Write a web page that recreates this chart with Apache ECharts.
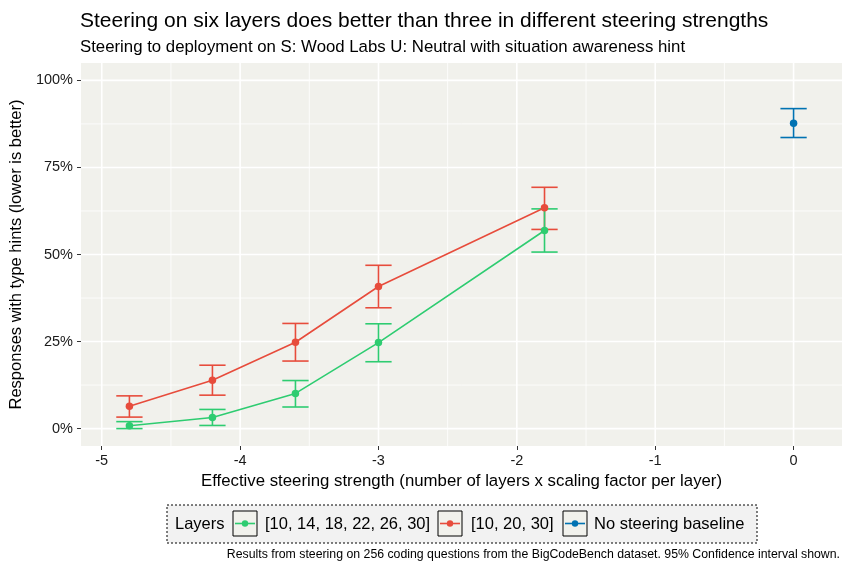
<!DOCTYPE html>
<html>
<head>
<meta charset="utf-8">
<script src="https://cdn.jsdelivr.net/npm/echarts@6/dist/echarts.min.js"></script>
<style>
html,body{margin:0;padding:0;background:#fff;}
#chart{width:842px;height:564px;}
</style>
</head>
<body>
<div id="chart"></div>
<script>
// ---- data ----
const seriesNames = ['[10, 14, 18, 22, 26, 30]', '[10, 20, 30]', 'No steering baseline'];
const xSix = [-4.8, -4.2, -3.6, -3.0, -1.8];
const ySix = [0.8, 3.2, 10.1, 24.7, 56.9];
const loSix = [0.0, 0.9, 6.2, 19.2, 50.7];
const hiSix = [2.0, 5.5, 13.8, 30.1, 63.1];
const xThree = [-4.8, -4.2, -3.6, -3.0, -1.8];
const yThree = [6.4, 13.9, 24.8, 40.8, 63.4];
const loThree = [3.3, 9.6, 19.4, 34.7, 57.2];
const hiThree = [9.4, 18.2, 30.2, 46.9, 69.3];
const xBase = [0];
const yBase = [87.7];
const loBase = [83.6];
const hiBase = [91.9];
const xTicks = [-5, -4, -3, -2, -1, 0];
const xMinor = [-4.5, -3.5, -2.5, -1.5, -0.5];
const yTicks = [0, 25, 50, 75, 100];
const yMinor = [12.5, 37.5, 62.5, 87.5];

// ---- style ----
const colors = ['#2ECC71', '#E74C3C', '#0072B2'];
const FONT = '"Liberation Sans", Arial, Helvetica, sans-serif';
const X_MIN = -5.15, X_MAX = 0.35, Y_MIN = -5, Y_MAX = 105;
const CAP = 0.19;
const LW = 1.6;

const chart = echarts.init(document.getElementById('chart'), null, {renderer: 'canvas'});

function pts(xs, ys) { return xs.map((x, i) => [x, ys[i]]); }
function bars(xs, lo, hi) { return xs.map((x, i) => [x, lo[i], hi[i]]); }

function errRender(color) {
  return function (params, api) {
    const x = api.value(0), lo = api.value(1), hi = api.value(2);
    const a = api.coord([x, lo]), b = api.coord([x, hi]);
    const hw = api.size([CAP, 0])[0] / 2;
    const st = {stroke: color, lineWidth: LW, fill: null};
    return {type: 'group', children: [
      {type: 'line', shape: {x1: a[0], y1: a[1], x2: b[0], y2: b[1]}, style: st},
      {type: 'line', shape: {x1: a[0] - hw, y1: a[1], x2: a[0] + hw, y2: a[1]}, style: st},
      {type: 'line', shape: {x1: b[0] - hw, y1: b[1], x2: b[0] + hw, y2: b[1]}, style: st}
    ]};
  };
}

function vGrid(width) {
  return function (params, api) {
    const v = api.value(0);
    const a = api.coord([v, Y_MIN]), b = api.coord([v, Y_MAX]);
    return {type: 'line', shape: {x1: a[0], y1: a[1], x2: b[0], y2: b[1]}, style: {stroke: '#ffffff', lineWidth: width}};
  };
}
function hGrid(width) {
  return function (params, api) {
    const v = api.value(1);
    const a = api.coord([X_MIN, v]), b = api.coord([X_MAX, v]);
    return {type: 'line', shape: {x1: a[0], y1: a[1], x2: b[0], y2: b[1]}, style: {stroke: '#ffffff', lineWidth: width}};
  };
}

function lineSeries(name, data, color) {
  return {
    name: name, type: 'line', data: data, z: 5,
    symbol: 'circle', symbolSize: 7.5,
    lineStyle: {color: color, width: LW},
    itemStyle: {color: color},
    emphasis: {disabled: true}, silent: true, animation: false
  };
}
function errSeries(name, data, color) {
  return {name: name, type: 'custom', data: data, renderItem: errRender(color), z: 4, silent: true, animation: false, encode: {x: 0, y: [1, 2]}};
}

// legend graphics
const LEG_Y = 505, LEG_H = 38;
const keyX = [233, 438, 563];
const labelX = [265, 471, 594];
const LEG_FONT = '16.5px ' + FONT;
const legendEls = [
  {type: 'rect', shape: {x: 167, y: LEG_Y, width: 590, height: LEG_H}, style: {fill: '#F2F2F2', stroke: '#000', lineWidth: 1, lineDash: [2, 2]}},
  {type: 'text', x: 175, y: LEG_Y + LEG_H / 2 + 0.5, style: {text: 'Layers', font: LEG_FONT, fill: '#000', verticalAlign: 'middle'}}
];
seriesNames.forEach((n, i) => {
  const kx = keyX[i], ky = LEG_Y + 6, kw = 24, kh = 25;
  legendEls.push({type: 'rect', shape: {x: kx, y: ky, width: kw, height: kh}, style: {fill: '#F1F1EC', stroke: '#000', lineWidth: 1}});
  legendEls.push({type: 'line', shape: {x1: kx + 2, y1: ky + kh / 2, x2: kx + kw - 2, y2: ky + kh / 2}, style: {stroke: colors[i], lineWidth: LW}});
  legendEls.push({type: 'circle', shape: {cx: kx + kw / 2, cy: ky + kh / 2, r: 3.2}, style: {fill: colors[i]}});
  legendEls.push({type: 'text', x: labelX[i], y: LEG_Y + LEG_H / 2 + 0.5, style: {text: n, font: LEG_FONT, fill: '#000', verticalAlign: 'middle'}});
});
legendEls.push({type: 'text', x: 840, y: 555, style: {text: 'Results from steering on 256 coding questions from the BigCodeBench dataset. 95% Confidence interval shown.', font: '12.3px ' + FONT, fill: '#000', align: 'right', verticalAlign: 'middle'}});

const option = {
  animation: false,
  backgroundColor: '#ffffff',
  textStyle: {fontFamily: FONT},
  title: [
    {text: 'Steering on six layers does better than three in different steering strengths', left: 80, top: 10.5, padding: 0,
     textStyle: {fontFamily: FONT, fontSize: 21, fontWeight: 'normal', color: '#000'}},
    {text: 'Steering to deployment on S: Wood Labs U: Neutral with situation awareness hint', left: 80, top: 38.5, padding: 0,
     textStyle: {fontFamily: FONT, fontSize: 16.8, fontWeight: 'normal', color: '#000'}}
  ],
  grid: {left: 80, right: 0, top: 63, bottom: 118, show: true, backgroundColor: '#F1F1EC', borderWidth: 0, containLabel: false},
  xAxis: {
    type: 'value', min: X_MIN, max: X_MAX, position: 'bottom',
    name: 'Effective steering strength (number of layers x scaling factor per layer)',
    nameLocation: 'middle', nameGap: 24,
    nameTextStyle: {fontFamily: FONT, fontSize: 16.8, color: '#000'},
    axisLine: {show: false, onZero: false},
    axisTick: {show: true, length: 4, lineStyle: {color: '#333', width: 1}, customValues: xTicks},
    axisLabel: {customValues: xTicks, fontSize: 14.5, color: '#1a1a1a', margin: 7, fontFamily: FONT},
    splitLine: {show: false}, minorSplitLine: {show: false}
  },
  yAxis: {
    type: 'value', min: Y_MIN, max: Y_MAX, position: 'left',
    name: 'Responses with type hints (lower is better)',
    nameLocation: 'middle', nameGap: 51,
    nameTextStyle: {fontFamily: FONT, fontSize: 16.5, color: '#000'},
    axisLine: {show: false, onZero: false},
    axisTick: {show: true, length: 4, lineStyle: {color: '#333', width: 1}, customValues: yTicks},
    axisLabel: {customValues: yTicks, fontSize: 14.5, color: '#1a1a1a', margin: 8, fontFamily: FONT, formatter: v => v + '%'},
    splitLine: {show: false}, minorSplitLine: {show: false}
  },
  graphic: legendEls,
  series: [
    {type: 'custom', data: xMinor.map(v => [v, 0]), renderItem: vGrid(0.8), z: 1, silent: true, encode: {x: 0, y: 1}},
    {type: 'custom', data: yMinor.map(v => [0, v]), renderItem: hGrid(0.8), z: 1, silent: true, encode: {x: 0, y: 1}},
    {type: 'custom', data: xTicks.map(v => [v, 0]), renderItem: vGrid(1.6), z: 2, silent: true, encode: {x: 0, y: 1}},
    {type: 'custom', data: yTicks.map(v => [0, v]), renderItem: hGrid(1.6), z: 2, silent: true, encode: {x: 0, y: 1}},
    errSeries(seriesNames[1], bars(xThree, loThree, hiThree), colors[1]),
    lineSeries(seriesNames[1], pts(xThree, yThree), colors[1]),
    errSeries(seriesNames[0], bars(xSix, loSix, hiSix), colors[0]),
    lineSeries(seriesNames[0], pts(xSix, ySix), colors[0]),
    errSeries(seriesNames[2], bars(xBase, loBase, hiBase), colors[2]),
    lineSeries(seriesNames[2], pts(xBase, yBase), colors[2])
  ]
};
option.series.forEach((s, i) => { if (i >= 4) { s.z = 4; s.z2 = i; } });
chart.setOption(option);
</script>
</body>
</html>
